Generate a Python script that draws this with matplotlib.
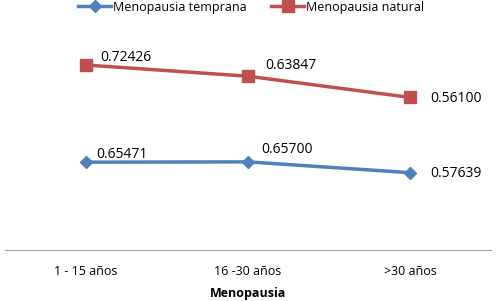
import matplotlib.pyplot as plt
import numpy as np

categories = ["1 - 15 años", "16 -30 años", ">30 años"]
temprana = [0.65471, 0.65700, 0.57639]
natural = [0.72426, 0.63847, 0.56100]

blue = "#4F81BD"
red = "#C0504D"
plt.rcParams['font.family'] = ['Open Sans', 'DejaVu Sans']

fig = plt.figure(figsize=(5.02, 3.01), dpi=100)
ax = fig.add_axes([5/502, 51/301, 486/502, 220/301])

x = np.arange(len(categories))
stacked = np.array(temprana) + np.array(natural)

ax.plot(x, temprana, color=blue, lw=2.5, marker="D", ms=6.5, label="Menopausia temprana")
ax.plot(x, stacked, color=red, lw=2.5, marker="s", ms=8, label="Menopausia natural")

# label offsets in pixels (dx, dy)
off_t = [(10, 8), (13, 12), (20, -1)]
off_n = [(14, 8), (17, 11), (20, -1)]
for i in range(len(x)):
    ax.annotate(f"{temprana[i]:.5f}", (x[i], temprana[i]), xytext=off_t[i],
                textcoords="offset pixels", fontsize=10, va="center", ha="left")
    ax.annotate(f"{natural[i]:.5f}", (x[i], stacked[i]), xytext=off_n[i],
                textcoords="offset pixels", fontsize=10, va="center", ha="left")

ax.set_xlim(-0.5, 2.5)
ax.set_ylim(0, 1.64)
ax.set_xticks(x)
ax.set_xticklabels(categories, fontsize=9)
ax.tick_params(axis="x", length=0, pad=11)
ax.set_yticks([])
for s in ["top", "left", "right"]:
    ax.spines[s].set_visible(False)
ax.spines["bottom"].set_color("#A0A0A0")
ax.set_xlabel("Menopausia", fontsize=9, fontweight="bold", labelpad=6)

fig.legend(loc="upper center", bbox_to_anchor=(0.5, 1.035), ncol=2, frameon=False,
           fontsize=9, handlelength=2.6, columnspacing=2.0, handletextpad=0.15)

fig.savefig("out.png", dpi=100)
